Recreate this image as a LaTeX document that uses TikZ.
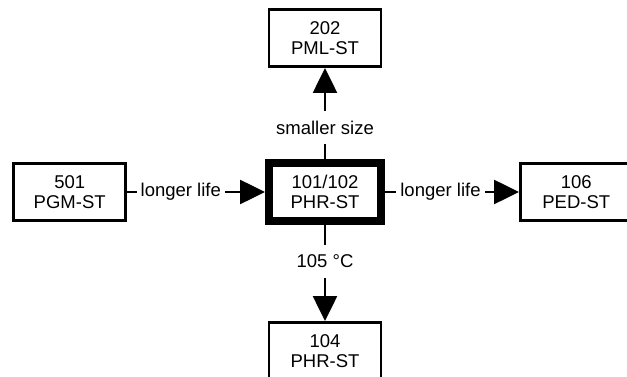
\documentclass[tikz,border=0pt]{standalone}
\usepackage{fontspec}
\setmainfont{Liberation Sans}
\usetikzlibrary{arrows.meta, positioning}

\begin{document}
\begin{tikzpicture}[>={Triangle[length=25pt, width=24pt]}, line width=2.6pt, font=\fontsize{18.5}{20}\selectfont]
\useasboundingbox (0pt,0pt) rectangle (627pt,-377pt);
\node[draw, line width=8pt, align=center, minimum width=112pt, minimum height=58pt] (phr) at (325pt,-192pt) {101/102\\PHR-ST};
\node[draw, align=center, minimum width=112pt, minimum height=57pt, above=91pt of phr] (pml) {202\\PML-ST};
\node[draw, align=center, minimum width=112pt, minimum height=57pt, below=96pt of phr] (phrb) {104\\PHR-ST};
\node[draw, align=center, minimum width=112pt, minimum height=57pt, left=138pt of phr] (pgm) {501\\PGM-ST};
\node[draw, align=center, minimum width=112pt, minimum height=57pt, right=134pt of phr] (ped) {106\\PED-ST};
\draw[->] (phr) -- node[fill=white, inner xsep=4pt, inner ysep=10pt, pos=0.345] (lsize) {smaller size} (pml);
\draw[->] (phr) -- node[fill=white, inner xsep=4pt, inner ysep=10pt, pos=0.38] (ltemp) {105 °C} (phrb);
\draw[->] (pgm) -- node[fill=white, inner xsep=4pt, inner ysep=10pt, pos=0.39] (llifel) {longer life} (phr);
\draw[->] (phr) -- node[fill=white, inner xsep=4pt, inner ysep=10pt, pos=0.414] (lliferr) {longer life} (ped);
\end{tikzpicture}
\end{document}
